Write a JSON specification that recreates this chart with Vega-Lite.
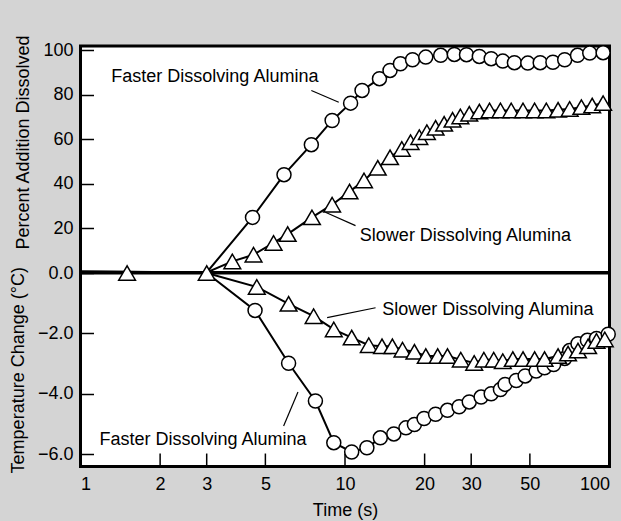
{
  "$schema": "https://vega.github.io/schema/vega-lite/v6.json",
  "background": "#d4d4d4",
  "padding": {"left": 7.5, "top": 32, "right": 20, "bottom": 20},
  "spacing": 0,
  "bounds": "flush",
  "config": {
    "view": {"stroke": "black", "strokeWidth": 3, "fill": "white"},
    "font": "Liberation Sans",
    "axis": {
      "labelFont": "Liberation Sans", "labelFontSize": 18, "labelColor": "black",
      "titleFont": "Liberation Sans", "titleFontSize": 18, "titleFontWeight": "normal", "titleColor": "black",
      "domain": false, "grid": false, "zindex": 1
    },
    "axisX": {"ticks": false, "tickSize": 0, "labelPadding": 9, "titlePadding": 7.5},
    "axisY": {"ticks": true, "tickSize": 13, "tickWidth": 1.5, "tickColor": "black", "offset": -13, "labelPadding": 7.5, "titlePadding": 10}
  },
  "datasets": {
    "pct": [
      {"series": "Faster", "t": 1, "value": 0.5},
      {"series": "Faster", "t": 3, "value": 0},
      {"series": "Faster", "t": 4.47, "value": 24.8},
      {"series": "Faster", "t": 5.88, "value": 44},
      {"series": "Faster", "t": 7.46, "value": 57.5},
      {"series": "Faster", "t": 8.94, "value": 68.4},
      {"series": "Faster", "t": 10.5, "value": 76.2},
      {"series": "Faster", "t": 11.6, "value": 81.9},
      {"series": "Faster", "t": 13.5, "value": 87.2},
      {"series": "Faster", "t": 14.8, "value": 90.9},
      {"series": "Faster", "t": 16.2, "value": 93.9},
      {"series": "Faster", "t": 18.0, "value": 95.7},
      {"series": "Faster", "t": 20.2, "value": 96.9},
      {"series": "Faster", "t": 23.0, "value": 97.7},
      {"series": "Faster", "t": 25.9, "value": 98.1},
      {"series": "Faster", "t": 28.8, "value": 98.0},
      {"series": "Faster", "t": 32.2, "value": 97.2},
      {"series": "Faster", "t": 35.7, "value": 96.2},
      {"series": "Faster", "t": 39.5, "value": 95.1},
      {"series": "Faster", "t": 43.7, "value": 94.4},
      {"series": "Faster", "t": 49.1, "value": 94.2},
      {"series": "Faster", "t": 54.7, "value": 94.4},
      {"series": "Faster", "t": 61.1, "value": 94.6},
      {"series": "Faster", "t": 67.7, "value": 95.7},
      {"series": "Faster", "t": 75.7, "value": 97.7},
      {"series": "Faster", "t": 84.2, "value": 98.7},
      {"series": "Faster", "t": 94.6, "value": 98.9},
      {"series": "Slower", "t": 1, "value": 0.5},
      {"series": "Slower", "t": 1.5, "value": 0.3},
      {"series": "Slower", "t": 3, "value": 0},
      {"series": "Slower", "t": 3.75, "value": 5.0},
      {"series": "Slower", "t": 4.51, "value": 8.0},
      {"series": "Slower", "t": 5.37, "value": 13.3},
      {"series": "Slower", "t": 6.07, "value": 17.3},
      {"series": "Slower", "t": 7.5, "value": 24.8},
      {"series": "Slower", "t": 8.94, "value": 30.5},
      {"series": "Slower", "t": 10.4, "value": 36.4},
      {"series": "Slower", "t": 11.8, "value": 41.4},
      {"series": "Slower", "t": 13.3, "value": 47.1},
      {"series": "Slower", "t": 14.8, "value": 51.8},
      {"series": "Slower", "t": 16.4, "value": 55.6},
      {"series": "Slower", "t": 17.7, "value": 58.6},
      {"series": "Slower", "t": 19.1, "value": 60.9},
      {"series": "Slower", "t": 20.4, "value": 63.1},
      {"series": "Slower", "t": 22.0, "value": 65.1},
      {"series": "Slower", "t": 23.7, "value": 66.9},
      {"series": "Slower", "t": 25.5, "value": 68.7},
      {"series": "Slower", "t": 27.3, "value": 70.2},
      {"series": "Slower", "t": 29.5, "value": 71.4},
      {"series": "Slower", "t": 32.2, "value": 72.4},
      {"series": "Slower", "t": 35.2, "value": 72.9},
      {"series": "Slower", "t": 38.7, "value": 72.9},
      {"series": "Slower", "t": 42.5, "value": 72.9},
      {"series": "Slower", "t": 47.1, "value": 72.9},
      {"series": "Slower", "t": 52.1, "value": 72.9},
      {"series": "Slower", "t": 57.7, "value": 72.9},
      {"series": "Slower", "t": 63.9, "value": 73.2},
      {"series": "Slower", "t": 70.7, "value": 73.6},
      {"series": "Slower", "t": 78.3, "value": 74.4},
      {"series": "Slower", "t": 86.0, "value": 75.1},
      {"series": "Slower", "t": 94.6, "value": 76.2}
    ],
    "temp": [
      {"series": "Faster", "t": 1, "value": 0.02},
      {"series": "Faster", "t": 3, "value": 0},
      {"series": "Faster", "t": 4.57, "value": -1.24},
      {"series": "Faster", "t": 6.12, "value": -2.99},
      {"series": "Faster", "t": 7.73, "value": -4.24},
      {"series": "Faster", "t": 9.07, "value": -5.62},
      {"series": "Faster", "t": 10.6, "value": -5.93},
      {"series": "Faster", "t": 12.1, "value": -5.79},
      {"series": "Faster", "t": 13.6, "value": -5.46},
      {"series": "Faster", "t": 15.3, "value": -5.33},
      {"series": "Faster", "t": 17.0, "value": -5.13},
      {"series": "Faster", "t": 18.3, "value": -5.02},
      {"series": "Faster", "t": 19.9, "value": -4.82},
      {"series": "Faster", "t": 22.0, "value": -4.68},
      {"series": "Faster", "t": 24.4, "value": -4.55},
      {"series": "Faster", "t": 27.0, "value": -4.43},
      {"series": "Faster", "t": 29.5, "value": -4.27},
      {"series": "Faster", "t": 32.7, "value": -4.11},
      {"series": "Faster", "t": 35.7, "value": -4.0},
      {"series": "Faster", "t": 38.7, "value": -3.86},
      {"series": "Faster", "t": 40.3, "value": -3.69},
      {"series": "Faster", "t": 44.4, "value": -3.56},
      {"series": "Faster", "t": 48.0, "value": -3.41},
      {"series": "Faster", "t": 52.8, "value": -3.25},
      {"series": "Faster", "t": 56.8, "value": -3.14},
      {"series": "Faster", "t": 61.5, "value": -3.03},
      {"series": "Faster", "t": 67.7, "value": -2.83},
      {"series": "Faster", "t": 70.7, "value": -2.57},
      {"series": "Faster", "t": 76.0, "value": -2.34},
      {"series": "Faster", "t": 82.5, "value": -2.23},
      {"series": "Faster", "t": 89.3, "value": -2.17},
      {"series": "Faster", "t": 98.9, "value": -2.03},
      {"series": "Slower", "t": 1, "value": 0.02},
      {"series": "Slower", "t": 1.5, "value": 0.0},
      {"series": "Slower", "t": 3, "value": 0},
      {"series": "Slower", "t": 4.64, "value": -0.46},
      {"series": "Slower", "t": 6.12, "value": -1.02},
      {"series": "Slower", "t": 7.61, "value": -1.43},
      {"series": "Slower", "t": 9.07, "value": -1.87},
      {"series": "Slower", "t": 10.6, "value": -2.14},
      {"series": "Slower", "t": 12.3, "value": -2.39},
      {"series": "Slower", "t": 13.8, "value": -2.43},
      {"series": "Slower", "t": 15.1, "value": -2.43},
      {"series": "Slower", "t": 16.5, "value": -2.54},
      {"series": "Slower", "t": 18.3, "value": -2.61},
      {"series": "Slower", "t": 20.2, "value": -2.75},
      {"series": "Slower", "t": 22.4, "value": -2.75},
      {"series": "Slower", "t": 24.4, "value": -2.75},
      {"series": "Slower", "t": 27.4, "value": -2.87},
      {"series": "Slower", "t": 30.8, "value": -2.98},
      {"series": "Slower", "t": 33.5, "value": -2.87},
      {"series": "Slower", "t": 36.5, "value": -2.87},
      {"series": "Slower", "t": 39.5, "value": -2.92},
      {"series": "Slower", "t": 43.1, "value": -2.85},
      {"series": "Slower", "t": 47.1, "value": -2.85},
      {"series": "Slower", "t": 52.1, "value": -2.85},
      {"series": "Slower", "t": 56.8, "value": -2.85},
      {"series": "Slower", "t": 63.9, "value": -2.75},
      {"series": "Slower", "t": 69.7, "value": -2.67},
      {"series": "Slower", "t": 76.0, "value": -2.57},
      {"series": "Slower", "t": 83.0, "value": -2.43},
      {"series": "Slower", "t": 89.3, "value": -2.25},
      {"series": "Slower", "t": 96.0, "value": -2.20}
    ],
    "pctNotes": [
      {"label": "Faster Dissolving Alumina", "t": 1.308, "value": 87.9, "t1": 7.46, "v1": 81.9, "t2": 9.47, "v2": 76.6},
      {"label": "Slower Dissolving Alumina", "t": 11.38, "value": 16.6, "t1": 8.43, "v1": 27.1, "t2": 10.96, "v2": 21.1}
    ],
    "tempNotes": [
      {"label": "Slower Dissolving Alumina", "t": 13.84, "value": -1.24, "t1": 8.56, "v1": -1.48, "t2": 13.05, "v2": -1.15},
      {"label": "Faster Dissolving Alumina", "t": 1.18, "value": -5.54, "t1": 5.86, "v1": -5.07, "t2": 6.64, "v2": -3.94}
    ],
    "timeTicks": [{"t": 2}, {"t": 3}, {"t": 5}, {"t": 10}, {"t": 20}, {"t": 30}, {"t": 50}]
  },
  "vconcat": [
    {
      "width": 529,
      "height": 226.5,
      "layer": [
        {
          "data": {"name": "pct"},
          "mark": {"type": "line", "color": "black", "strokeWidth": 2},
          "encoding": {
            "x": {"field": "t", "type": "quantitative", "scale": {"type": "log", "domain": [1, 100]}, "axis": null},
            "y": {"field": "value", "type": "quantitative", "scale": {"domain": [0, 101.9], "nice": false, "zero": false},
                  "axis": {"values": [20, 40, 60, 80, 100], "title": "Percent Addition Dissolved", "titleY": 96}},
            "detail": {"field": "series"}
          }
        },
        {
          "data": {"name": "pct"},
          "transform": [{"filter": "datum.series == 'Faster' && datum.t > 3"}],
          "mark": {"type": "point", "shape": "circle", "filled": true, "fill": "white", "stroke": "black", "strokeWidth": 1.5, "size": 196, "opacity": 1},
          "encoding": {
            "x": {"field": "t", "type": "quantitative"},
            "y": {"field": "value", "type": "quantitative"}
          }
        },
        {
          "data": {"name": "pct"},
          "transform": [{"filter": "datum.series == 'Slower' && datum.t > 3"}],
          "mark": {"type": "point", "shape": "triangle-up", "filled": true, "fill": "white", "stroke": "black", "strokeWidth": 1.5, "size": 280, "opacity": 1},
          "encoding": {
            "x": {"field": "t", "type": "quantitative"},
            "y": {"field": "value", "type": "quantitative"}
          }
        },
        {
          "data": {"name": "pctNotes"},
          "mark": {"type": "rule", "color": "black", "strokeWidth": 1.2},
          "encoding": {
            "x": {"field": "t1", "type": "quantitative"},
            "y": {"field": "v1", "type": "quantitative"},
            "x2": {"field": "t2"},
            "y2": {"field": "v2"}
          }
        },
        {
          "data": {"name": "pctNotes"},
          "mark": {"type": "text", "align": "left", "baseline": "middle", "fontSize": 18, "font": "Liberation Sans", "color": "black"},
          "encoding": {
            "x": {"field": "t", "type": "quantitative"},
            "y": {"field": "value", "type": "quantitative"},
            "text": {"field": "label"}
          }
        }
      ]
    },
    {
      "width": 529,
      "height": 193.5,
      "layer": [
        {
          "data": {"name": "temp"},
          "mark": {"type": "line", "color": "black", "strokeWidth": 2},
          "encoding": {
            "x": {"field": "t", "type": "quantitative", "scale": {"type": "log", "domain": [1, 100]},
                  "axis": {"values": [1, 2, 3, 5, 10, 20, 30, 50, 100], "format": "d", "title": "Time (s)"}},
            "y": {"field": "value", "type": "quantitative", "scale": {"domain": [-6.41, 0], "nice": false, "zero": false},
                  "axis": {"values": [0, -2, -4, -6], "format": ".1f", "title": "Temperature Change (°C)"}},
            "detail": {"field": "series"}
          }
        },
        {
          "data": {"name": "timeTicks"},
          "mark": {"type": "rule", "color": "black", "strokeWidth": 1.5},
          "encoding": {
            "x": {"field": "t", "type": "quantitative"},
            "y": {"datum": -6.41, "type": "quantitative"},
            "y2": {"datum": -5.98}
          }
        },
        {
          "data": {"name": "temp"},
          "transform": [{"filter": "datum.series == 'Faster' && datum.t > 3"}],
          "mark": {"type": "point", "shape": "circle", "filled": true, "fill": "white", "stroke": "black", "strokeWidth": 1.5, "size": 196, "opacity": 1},
          "encoding": {
            "x": {"field": "t", "type": "quantitative"},
            "y": {"field": "value", "type": "quantitative"}
          }
        },
        {
          "data": {"name": "temp"},
          "transform": [{"filter": "datum.series == 'Slower' && datum.t > 1"}],
          "mark": {"type": "point", "shape": "triangle-up", "filled": true, "fill": "white", "stroke": "black", "strokeWidth": 1.5, "size": 280, "opacity": 1},
          "encoding": {
            "x": {"field": "t", "type": "quantitative"},
            "y": {"field": "value", "type": "quantitative"}
          }
        },
        {
          "data": {"name": "tempNotes"},
          "mark": {"type": "rule", "color": "black", "strokeWidth": 1.2},
          "encoding": {
            "x": {"field": "t1", "type": "quantitative"},
            "y": {"field": "v1", "type": "quantitative"},
            "x2": {"field": "t2"},
            "y2": {"field": "v2"}
          }
        },
        {
          "data": {"name": "tempNotes"},
          "mark": {"type": "text", "align": "left", "baseline": "middle", "fontSize": 18, "font": "Liberation Sans", "color": "black"},
          "encoding": {
            "x": {"field": "t", "type": "quantitative"},
            "y": {"field": "value", "type": "quantitative"},
            "text": {"field": "label"}
          }
        }
      ]
    }
  ]
}
